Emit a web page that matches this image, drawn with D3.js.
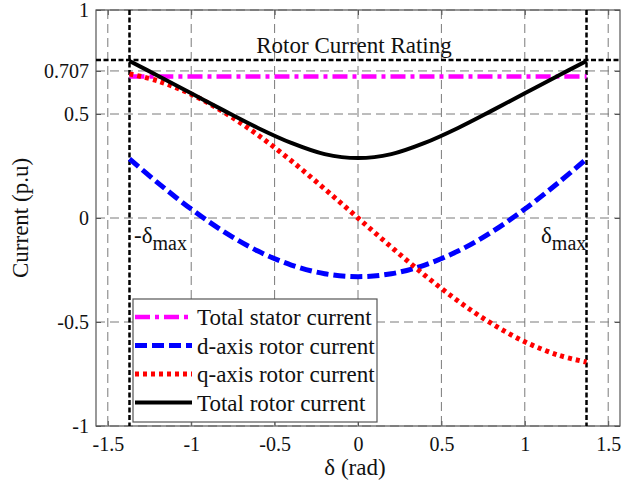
<!DOCTYPE html>
<html>
<head>
<meta charset="utf-8">
<script src="https://cdn.jsdelivr.net/npm/d3@7"></script>
<style>
  html, body { margin: 0; padding: 0; background: #fff; }
  svg text { font-family: "Liberation Serif", "Times New Roman", serif; fill: #111; }
</style>
</head>
<body>
<svg id="chart" width="644" height="485"></svg>
<script>
// Rotor angle samples (rad)
const delta = [-1.37, -1.2, -1.0, -0.8, -0.6, -0.4, -0.2, 0, 0.2, 0.4, 0.6, 0.8, 1.0, 1.2, 1.37];
// Currents in p.u.
const statorCurrent = [0.68, 0.68, 0.68, 0.68, 0.68, 0.68, 0.68, 0.68, 0.68, 0.68, 0.68, 0.68, 0.68, 0.68, 0.68];
const dAxisRotor = [0.284, 0.169, 0.043, -0.068, -0.159, -0.226, -0.268, -0.282, -0.268, -0.226, -0.159, -0.068, 0.043, 0.169, 0.284];
const qAxisRotor = [0.693, 0.659, 0.595, 0.507, 0.399, 0.275, 0.140, 0, -0.140, -0.275, -0.399, -0.507, -0.595, -0.659, -0.693];
const totalRotor = [0.755, 0.684, 0.600, 0.515, 0.433, 0.361, 0.307, 0.288, 0.307, 0.361, 0.433, 0.515, 0.600, 0.684, 0.755];
const rotorRating = 0.76;
const deltaMax = 1.37;
const xTicks = [-1.5, -1, -0.5, 0, 0.5, 1, 1.5];
const yTicks = [-1, -0.5, 0, 0.5, 0.707, 1];
const legendLabels = ["Total stator current", "d-axis rotor current", "q-axis rotor current", "Total rotor current"];

const svg = d3.select("#chart");
const L = 96, R = 620, T = 10, B = 426;
const x = d3.scaleLinear().domain([-Math.PI / 2, Math.PI / 2]).range([L, R]);
const y = d3.scaleLinear().domain([-1, 1]).range([B, T]);

// grid
const grid = svg.append("g");
grid.selectAll("line.vx").data(xTicks).join("line")
  .attr("x1", d => x(d)).attr("x2", d => x(d)).attr("y1", T).attr("y2", B)
  .attr("stroke", "#7a7a7a").attr("stroke-width", 1).attr("stroke-dasharray", "9,5");
grid.selectAll("line.hy").data(yTicks).join("line")
  .attr("x1", L).attr("x2", R).attr("y1", d => y(d)).attr("y2", d => y(d))
  .attr("stroke", "#7a7a7a").attr("stroke-width", 1).attr("stroke-dasharray", "9,5");

// axes
const fmt = d => d === 0.707 ? "0.707" : String(d);
const xAxis = svg.append("g").attr("transform", `translate(0,${B})`)
  .call(d3.axisBottom(x).tickValues(xTicks).tickSize(-5).tickPadding(11).tickFormat(fmt));
const xAxisTop = svg.append("g").attr("transform", `translate(0,${T})`)
  .call(d3.axisTop(x).tickValues(xTicks).tickSize(-5).tickFormat(""));
const yAxis = svg.append("g").attr("transform", `translate(${L},0)`)
  .call(d3.axisLeft(y).tickValues(yTicks).tickSize(-5).tickPadding(7).tickFormat(fmt));
const yAxisRight = svg.append("g").attr("transform", `translate(${R},0)`)
  .call(d3.axisRight(y).tickValues(yTicks).tickSize(-5).tickFormat(""));
[xAxis, xAxisTop, yAxis, yAxisRight].forEach(g => {
  g.select(".domain").remove();
  g.selectAll(".tick line").attr("stroke", "#555");
  g.selectAll("text").attr("font-size", 20).attr("font-family", "Liberation Serif, serif").attr("fill", "#111");
});
svg.append("rect").attr("x", L).attr("y", T).attr("width", R - L).attr("height", B - T)
  .attr("fill", "none").attr("stroke", "#555").attr("stroke-width", 1.2);

// reference lines
svg.append("line").attr("x1", L).attr("x2", R).attr("y1", y(rotorRating)).attr("y2", y(rotorRating))
  .attr("stroke", "#000").attr("stroke-width", 2.5).attr("stroke-dasharray", "5,2.5");
[-deltaMax, deltaMax].forEach(d => {
  svg.append("line").attr("x1", x(d)).attr("x2", x(d)).attr("y1", T).attr("y2", B)
    .attr("stroke", "#000").attr("stroke-width", 2.5).attr("stroke-dasharray", "5,2.5");
});

const series = [
  { vals: statorCurrent, color: "#ff00ff", width: 4.5, dash: "15,5,4,5" },
  { vals: dAxisRotor, color: "#0000ff", width: 5, dash: "12,5" },
  { vals: qAxisRotor, color: "#ff0000", width: 5, dash: "4,4" },
  { vals: totalRotor, color: "#000000", width: 4, dash: null }
];
const line = d3.line().x(d => x(d[0])).y(d => y(d[1])).curve(d3.curveCatmullRom);
series.forEach(s => {
  svg.append("path").datum(delta.map((d, i) => [d, s.vals[i]]))
    .attr("d", line).attr("fill", "none").attr("stroke", s.color)
    .attr("stroke-width", s.width).attr("stroke-dasharray", s.dash);
});

// annotations
svg.append("text").attr("x", 354).attr("y", 53).attr("text-anchor", "middle")
  .attr("font-size", 23).text("Rotor Current Rating");
const lbl1 = svg.append("text").attr("x", 134).attr("y", 243).attr("font-size", 23);
lbl1.append("tspan").text("-δ");
lbl1.append("tspan").attr("dy", 7).attr("font-size", 20).text("max");
const lbl2 = svg.append("text").attr("x", 541).attr("y", 243).attr("font-size", 23);
lbl2.append("tspan").text("δ");
lbl2.append("tspan").attr("dy", 7).attr("font-size", 20).text("max");

// axis titles
svg.append("text").attr("x", 355).attr("y", 475).attr("text-anchor", "middle")
  .attr("font-size", 23).text("δ (rad)");
svg.append("text").attr("transform", "translate(28,218) rotate(-90)").attr("text-anchor", "middle")
  .attr("font-size", 23).text("Current (p.u)");

// legend
const lg = svg.append("g");
lg.append("rect").attr("x", 133).attr("y", 299).attr("width", 244).attr("height", 123)
  .attr("fill", "#fff").attr("stroke", "#555").attr("stroke-width", 1.2);
legendLabels.forEach((t, i) => {
  const yy = 317 + i * 28.5;
  const s = series[i];
  lg.append("line").attr("x1", 135).attr("x2", 192).attr("y1", yy).attr("y2", yy)
    .attr("stroke", s.color).attr("stroke-width", s.width).attr("stroke-dasharray", s.dash);
  lg.append("text").attr("x", 197).attr("y", yy + 8).attr("font-size", 23).text(t);
});
</script>
</body>
</html>
